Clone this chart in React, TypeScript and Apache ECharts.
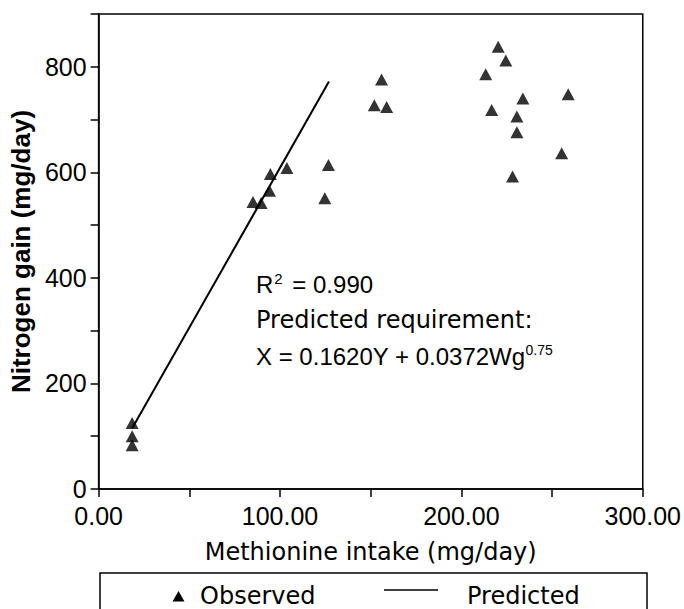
import React, { useEffect, useRef } from "react";
import * as echarts from "echarts";

// Observed: [methionine intake (mg/day), nitrogen gain (mg/day)]
const observedIntake = [18.5, 18.5, 18.5, 85.1, 89.6, 94.2, 94.7, 103.8, 124.7, 126.7, 152.0, 158.8, 156.0, 220.3, 224.5, 213.4, 233.9, 258.9, 216.7, 230.6, 230.6, 255.3, 228.2];
const observedGain = [125, 100, 83, 544, 542, 565, 597, 608, 551, 614, 727, 724, 776, 838, 812, 786, 740, 748, 718, 706, 676, 636, 592];
// Predicted line
const predictedIntake = [18.5, 127];
const predictedGain = [115, 772];

const xTickLabels: Record<number, string> = { 0: "0.00", 100: "100.00", 200: "200.00", 300: "300.00" };
const yTickLabels: Record<number, string> = { 0: "0", 200: "200", 400: "400", 600: "600", 800: "800" };

const xTitle = "Methionine intake (mg/day)";
const yTitle = "Nitrogen gain (mg/day)";
const legendNames = ["Observed", "Predicted"];

export default function App() {
  const ref = useRef<HTMLDivElement>(null);
  useEffect(() => {
    document.body.style.margin = "0";
    const chart = echarts.init(ref.current!, null, { renderer: "svg" });
    const black = "#000";
    const tickFont = "'Liberation Sans', Arial, sans-serif";
    const wideFont = "'DejaVu Sans', sans-serif";
    chart.setOption({
      animation: false,
      backgroundColor: "#fff",
      grid: {
        left: 97,
        right: 36,
        top: 14,
        bottom: 120,
        show: true,
        borderColor: black,
        borderWidth: 1.5,
        containLabel: false,
      },
      xAxis: {
        type: "value",
        min: 0,
        max: 300,
        interval: 50,
        name: xTitle,
        nameLocation: "middle",
        nameGap: 51,
        nameTextStyle: { fontFamily: wideFont, fontSize: 24, color: black },
        axisLine: { show: true, lineStyle: { color: black, width: 1.5 } },
        axisTick: { show: true, length: 8, lineStyle: { color: black, width: 1.5 } },
        splitLine: { show: false },
        axisLabel: {
          interval: 0,
          margin: 14,
          color: black,
          fontFamily: tickFont,
          fontSize: 25,
          formatter: (v: number) => xTickLabels[Math.round(v)] ?? "",
        },
      },
      yAxis: {
        type: "value",
        min: 0,
        max: 900,
        interval: 100,
        name: yTitle,
        nameLocation: "middle",
        nameRotate: 90,
        nameGap: 62,
        nameTextStyle: { fontFamily: tickFont, fontWeight: "bold", fontSize: 26, color: black },
        axisLine: { show: true, lineStyle: { color: black, width: 1.5 } },
        axisTick: { show: true, length: 8, lineStyle: { color: black, width: 1.5 } },
        splitLine: { show: false },
        axisLabel: {
          interval: 0,
          margin: 12,
          color: black,
          fontFamily: tickFont,
          fontSize: 25,
          formatter: (v: number) => yTickLabels[Math.round(v)] ?? "",
        },
      },
      series: [
        {
          name: legendNames[0],
          type: "scatter",
          symbol: "triangle",
          symbolSize: [13, 12],
          itemStyle: { color: black },
          data: observedIntake.map((x, i) => [x, observedGain[i]]),
        },
        {
          name: legendNames[1],
          type: "line",
          showSymbol: false,
          symbol: "none",
          lineStyle: { color: black, width: 2 },
          data: predictedIntake.map((x, i) => [x, predictedGain[i]]),
        },
      ],
      graphic: [
        {
          type: "text",
          left: 256,
          top: 270,
          style: {
            text: "{n|R}{s|2}{n| = 0.990}",
            fill: black,
            rich: {
              n: { fontFamily: tickFont, fontSize: 24, lineHeight: 26, verticalAlign: "bottom" },
              s: { fontFamily: tickFont, fontSize: 15, lineHeight: 26, verticalAlign: "top", padding: [1, 3, 0, 1] },
            },
          },
        },
        {
          type: "text",
          left: 256,
          top: 308,
          style: { text: "Predicted requirement:", fontFamily: wideFont, fontSize: 24, fill: black },
        },
        {
          type: "text",
          left: 256,
          top: 342,
          style: {
            text: "{n|X = 0.1620Y + 0.0372Wg}{s|0.75}",
            fill: black,
            rich: {
              n: { fontFamily: tickFont, fontSize: 24, lineHeight: 26, verticalAlign: "bottom" },
              s: { fontFamily: tickFont, fontSize: 14, lineHeight: 26, verticalAlign: "top", padding: [1, 0, 0, 0] },
            },
          },
        },
        {
          type: "rect",
          shape: { x: 100, y: 573, width: 547, height: 60 },
          style: { fill: "none", stroke: black, lineWidth: 1.5 },
        },
        {
          type: "polygon",
          shape: { points: [[178.5, 591], [172.5, 601.5], [184.5, 601.5]] },
          style: { fill: black },
        },
        {
          type: "text",
          x: 200,
          y: 596,
          style: { text: legendNames[0], fontFamily: wideFont, fontSize: 24, fill: black, textVerticalAlign: "middle" },
        },
        {
          type: "line",
          shape: { x1: 384, y1: 590, x2: 438, y2: 590 },
          style: { stroke: black, lineWidth: 1.5 },
        },
        {
          type: "text",
          x: 467,
          y: 596,
          style: { text: legendNames[1], fontFamily: wideFont, fontSize: 24, fill: black, textVerticalAlign: "middle" },
        },
      ],
    });
    return () => chart.dispose();
  }, []);
  return <div ref={ref} style={{ width: 684, height: 609 }} />;
}
